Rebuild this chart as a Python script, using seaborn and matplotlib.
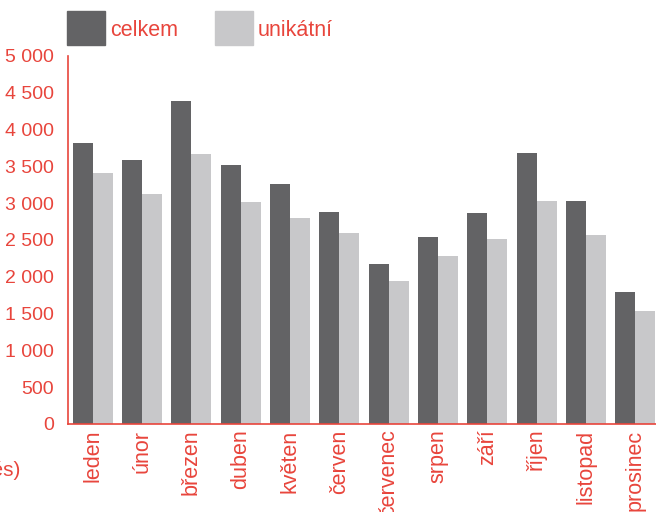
import matplotlib
matplotlib.use('Agg')
import matplotlib.pyplot as plt
import pandas as pd
import seaborn as sns

RED   = '#e8453c'
DARK  = '#636365'
LIGHT = '#c8c8ca'

months = ['leden', 'únor', 'březen', 'duben', 'květen', 'červen',
          'červenec', 'srpen', 'září', 'říjen', 'listopad', 'prosinec']
celkem   = [3820, 3590, 4390, 3520, 3260, 2880, 2175, 2540, 2870, 3680, 3030, 1795]
unikatni = [3410, 3125, 3670, 3015, 2800, 2595, 1945, 2285, 2515, 3030, 2570, 1535]
series = ['celkem', 'unikátní']
yticks = [0, 500, 1000, 1500, 2000, 2500, 3000, 3500, 4000, 4500, 5000]

df = pd.DataFrame({
    'month': months * 2,
    'value': celkem + unikatni,
    'series': [series[0]] * len(months) + [series[1]] * len(months),
})

sns.set_style('white')
plt.rcParams['font.family'] = ['Liberation Sans', 'DejaVu Sans']

fig = plt.figure(figsize=(6.56, 5.12), dpi=100)
ax = fig.add_axes([68 / 656, 88 / 512, 592 / 656, 368 / 512])

sns.barplot(data=df, x='month', y='value', hue='series', order=months,
            hue_order=series, palette=[DARK, LIGHT], width=0.81, gap=0,
            saturation=1, linewidth=0, legend=False, ax=ax)

ax.set_xlim(-0.5, 11.5)
ax.set_ylim(0, 5000)
ax.set_yticks(yticks)
ax.set_yticklabels([f'{v:,}'.replace(',', ' ') for v in yticks])
ax.tick_params(axis='y', length=0, pad=10, labelsize=14, labelcolor=RED)
ax.tick_params(axis='x', length=0, pad=4, labelsize=15.5, labelcolor=RED, rotation=90)
for lbl in ax.get_xticklabels():
    lbl.set_va('top')
ax.set_xlabel('')
ax.set_ylabel('')
for side in ('top', 'right'):
    ax.spines[side].set_visible(False)
for side in ('left', 'bottom'):
    ax.spines[side].set_color(RED)
    ax.spines[side].set_linewidth(1.2)

# legend drawn as squares + labels above the plot
for i, (name, col) in enumerate(zip(series, [DARK, LIGHT])):
    x0 = (67 + i * 148) / 656
    fig.patches.append(plt.Rectangle((x0, (512 - 45) / 512), 38 / 656, 34 / 512,
                                     transform=fig.transFigure, color=col))
    fig.text(x0 + 43 / 656, (512 - 31) / 512, name, color=RED, fontsize=15.5, va='center')

# clipped axis caption at the left edge
fig.text(21 / 656, (512 - 470) / 512, '(měs)', color=RED, fontsize=15,
         ha='right', va='center')

fig.savefig('out.png', dpi=100)
